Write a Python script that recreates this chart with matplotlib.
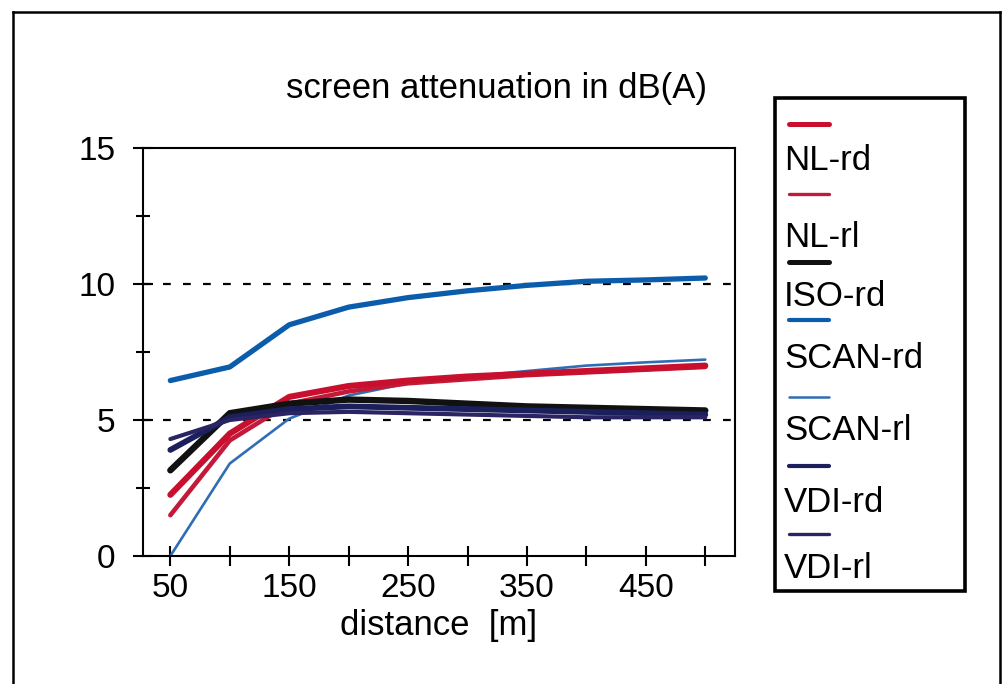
"""Screen attenuation vs distance for the different calculation methods."""

import matplotlib

matplotlib.use("Agg")
import matplotlib.pyplot as plt
from matplotlib.lines import Line2D
from matplotlib.patches import Rectangle

plt.rcParams["font.family"] = ["Liberation Sans", "DejaVu Sans"]

# ---------------------------------------------------------------------------
# data
# ---------------------------------------------------------------------------
distance = [50, 100, 150, 200, 250, 300, 350, 400, 450, 500]

nl_rd = [2.25, 4.5, 5.85, 6.25, 6.45, 6.6, 6.7, 6.8, 6.9, 7.0]
nl_rl = [1.5, 4.25, 5.6, 6.05, 6.35, 6.5, 6.65, 6.75, 6.85, 6.95]
iso_rd = [3.15, 5.25, 5.6, 5.75, 5.7, 5.6, 5.5, 5.45, 5.4, 5.35]
scan_rd = [6.45, 6.95, 8.5, 9.15, 9.5, 9.75, 9.95, 10.1, 10.15, 10.22]
scan_rl = [0.0, 3.4, 5.05, 5.9, 6.35, 6.6, 6.8, 7.0, 7.12, 7.22]
vdi_rd = [3.9, 5.1, 5.4, 5.5, 5.45, 5.4, 5.35, 5.3, 5.25, 5.2]
vdi_rl = [4.3, 5.0, 5.25, 5.3, 5.25, 5.2, 5.15, 5.1, 5.1, 5.1]

labels = ["NL-rd", "NL-rl", "ISO-rd", "SCAN-rd", "SCAN-rl", "VDI-rd", "VDI-rl"]
series = [nl_rd, nl_rl, iso_rd, scan_rd, scan_rl, vdi_rd, vdi_rl]
colors = ["#c8102e", "#c41a3a", "#111111", "#0b5cab", "#2f6db5", "#1b1f5c", "#2a2463"]
widths = [4.4, 3.3, 4.6, 3.8, 1.9, 4.2, 3.0]
legend_widths = [3.6, 2.4, 3.6, 3.0, 1.8, 3.0, 2.4]
draw_order = [4, 1, 0, 2, 5, 6, 3]

gridlines = [5, 10]
ytick_major = [0, 5, 10, 15]
ytick_minor = [2.5, 7.5, 12.5]

# ---------------------------------------------------------------------------
fig = plt.figure(figsize=(10.06, 6.84), dpi=100)
ax = fig.add_axes([143 / 1006, 1 - 556 / 684, (735 - 143) / 1006, (556 - 148) / 684])

for y in gridlines:
    ax.axhline(y, color="black", linestyle=(0, (3.5, 5.5)), linewidth=1.6, zorder=1)

for i in draw_order:
    ax.plot(distance, series[i], color=colors[i], linewidth=widths[i],
            solid_capstyle="round", solid_joinstyle="round", zorder=2)

ax.set_xlim(27, 525)
ax.set_ylim(0, 15)
ax.set_xticks(distance)
ax.set_xticklabels([str(d) if (d - 50) % 100 == 0 else "" for d in distance])
ax.set_yticks(ytick_major)
ax.set_yticks(ytick_minor, minor=True)
ax.tick_params(axis="both", which="major", direction="inout", length=14, width=1.5,
               labelsize=24)
ax.tick_params(axis="x", which="major", pad=5)
ax.tick_params(axis="y", which="major", pad=13)
ax.tick_params(axis="y", which="minor", direction="inout", length=10, width=1.5)
for s in ax.spines.values():
    s.set_linewidth(1.5)

ax.set_xlabel("distance  [m]", fontsize=25, labelpad=4)
fig.text(0.494, 0.871, "screen attenuation in dB(A)", fontsize=25, ha="center", va="center")

# hand-drawn style legend box: line sample above each label
lx0, ly_top, lx1, ly_bot = 775, 98, 965, 591
fig.patches.append(Rectangle((lx0 / 1006, 1 - ly_bot / 684), (lx1 - lx0) / 1006,
                             (ly_bot - ly_top) / 684, transform=fig.transFigure,
                             facecolor="white", edgecolor="black", linewidth=2.6))
line_y = [124, 194, 262, 320, 397, 466, 534]
text_y = [160, 237, 297, 358, 431, 503, 568]
for i, lab in enumerate(labels):
    fig.lines.append(Line2D([789 / 1006, 829 / 1006], [1 - line_y[i] / 684] * 2,
                            transform=fig.transFigure, color=colors[i],
                            linewidth=legend_widths[i], solid_capstyle="round"))
    fig.text(784 / 1006, 1 - text_y[i] / 684, lab, fontsize=25, ha="left", va="center")

# outer frame (open at the bottom)
frame = [([13, 13], [684, 12]), ([13, 1000], [12, 12]), ([1000, 1000], [12, 684])]
for xs, ys in frame:
    fig.lines.append(Line2D([x / 1006 for x in xs], [1 - y / 684 for y in ys],
                            transform=fig.transFigure, color="black", linewidth=1.8))

fig.savefig("out.png", dpi=100)
